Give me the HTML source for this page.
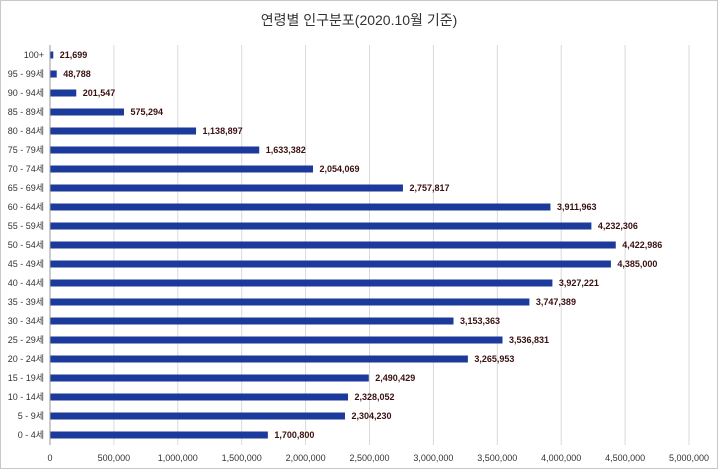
<!DOCTYPE html>
<html><head><meta charset="utf-8">
<style>
html,body{margin:0;padding:0;background:#fff;}
body{width:718px;height:469px;overflow:hidden;position:relative;font-family:"Liberation Sans","Noto Sans CJK KR",sans-serif;}
#frame{position:absolute;left:0;top:0;width:716px;height:467px;border:1px solid #c8c8c8;}
</style></head>
<body>
<div id="frame"></div>
<svg id="chart" width="718" height="469" style="position:absolute;left:0;top:0">
<text x="359" y="25" text-anchor="middle" font-size="14" fill="#333" font-family="Liberation Sans, Noto Sans CJK KR, sans-serif">연령별 인구분포(2020.10월 기준)</text>
</svg>
<script>
const categories=["100+","95 - 99세","90 - 94세","85 - 89세","80 - 84세","75 - 79세","70 - 74세","65 - 69세","60 - 64세","55 - 59세","50 - 54세","45 - 49세","40 - 44세","35 - 39세","30 - 34세","25 - 29세","20 - 24세","15 - 19세","10 - 14세","5 - 9세","0 - 4세"];
const values=[21699,48788,201547,575294,1138897,1633382,2054069,2757817,3911963,4232306,4422986,4385000,3927221,3747389,3153363,3536831,3265953,2490429,2328052,2304230,1700800];
const xTicks=[0,500000,1000000,1500000,2000000,2500000,3000000,3500000,4000000,4500000,5000000];
const svg=document.getElementById('chart');
const NS='http://www.w3.org/2000/svg';
const x0=50,x1=689,xMax=5000000,yTop=55,yStep=19,plotTop=45,plotBot=445;
const xs=v=>x0+(v/xMax)*(x1-x0);
const ys=i=>yTop+i*yStep;
const fmt=v=>v.toLocaleString('en-US');
function mk(tag,attrs){const e=document.createElementNS(NS,tag);for(const k in attrs)e.setAttribute(k,attrs[k]);svg.appendChild(e);return e;}
xTicks.forEach(t=>{
  const g=mk('line',{x1:xs(t),x2:xs(t),y1:plotTop,y2:plotBot,stroke:t===0?'#999':'#d9d9d9','stroke-width':1});
  
  
  const l=mk('text',{x:xs(t),y:461,'text-anchor':'middle','font-size':9,fill:'#333'});
  l.textContent=fmt(t);
  
  
});
categories.forEach((c,i)=>{
  const y=ys(i);
  const lab=mk('text',{x:44,y:y+3,'text-anchor':'end','font-size':9,fill:'#333'});
  lab.textContent=c;
  
  
  const w=Math.max(xs(values[i])-x0,2.5);
  const b=mk('rect',{x:x0+0.5,y:y-3.5,width:w,height:7,fill:'#1c3a9b'});
  
  
  const v=mk('text',{x:x0+w+7,y:y+3,'font-size':9,'font-weight':'bold',fill:'#3a1010'});
  v.textContent=fmt(values[i]);
  
  
});
</script>
</body></html>
